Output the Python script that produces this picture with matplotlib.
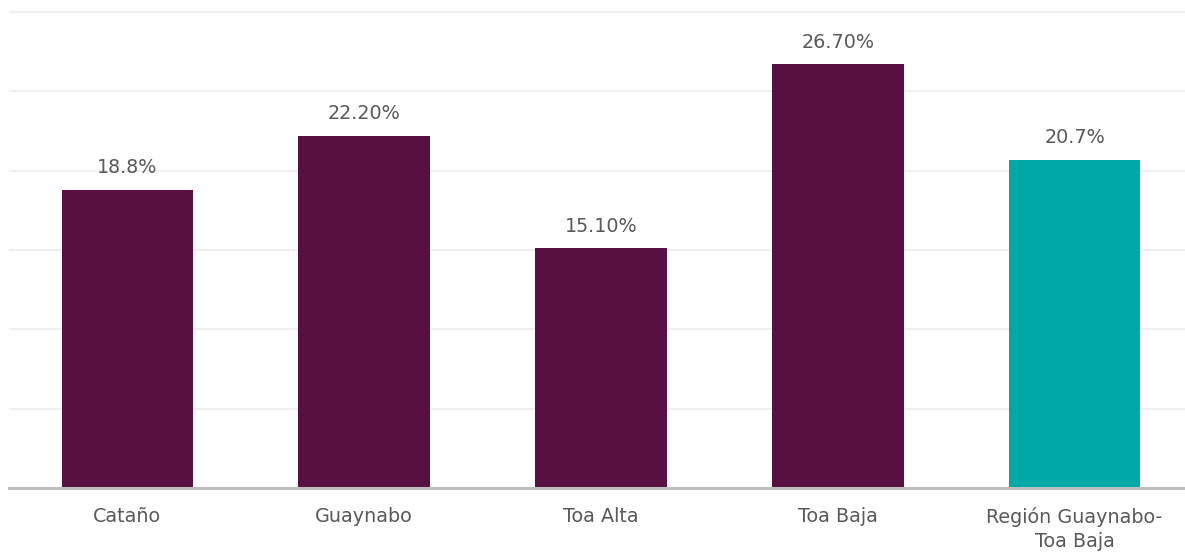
import matplotlib.pyplot as plt

# Municipal values (percent) and the regional total
categories = ["Cataño", "Guaynabo", "Toa Alta", "Toa Baja", "Región Guaynabo-\nToa Baja"]
values = [18.8, 22.2, 15.1, 26.7, 20.7]
value_labels = ["18.8%", "22.20%", "15.10%", "26.70%", "20.7%"]
colors = ["#580F41", "#580F41", "#580F41", "#580F41", "#00A9A6"]
y_ticks = [0, 5, 10, 15, 20, 25, 30]

plt.rcParams['font.family'] = ['DejaVu Sans']

y_top = 30.3
px_per_unit = 476 / 30

fig = plt.figure(figsize=(11.85, 5.52), dpi=100)
ax = fig.add_axes([9 / 1185, 64 / 552, 1184 / 1185, y_top * px_per_unit / 552])

x = range(len(categories))
bars = ax.bar(x, values, width=0.555, color=colors, zorder=3)

for bar, label in zip(bars, value_labels):
    ax.annotate(label, (bar.get_x() + bar.get_width() / 2, bar.get_height()),
                xytext=(0, 9), textcoords='offset points', ha='center', va='bottom',
                fontsize=13.8, color='#595959')

ax.set_xlim(-0.5, len(categories) - 0.5)
ax.set_ylim(0, y_top)
ax.set_yticks(y_ticks)
ax.set_yticklabels([])
ax.yaxis.grid(True, color='#EFEFEF', linewidth=1.5, zorder=0)
ax.tick_params(axis='y', length=0)
ax.set_xticks(list(x))
ax.set_xticklabels(categories, fontsize=13.8, color='#595959', linespacing=1.3)
ax.tick_params(axis='x', length=0, pad=14)

for side in ['top', 'right', 'left']:
    ax.spines[side].set_visible(False)
ax.spines['bottom'].set_color('#BFBFBF')
ax.spines['bottom'].set_linewidth(2.2)
ax.spines['bottom'].set_zorder(4)

fig.savefig('out.png', dpi=100)
